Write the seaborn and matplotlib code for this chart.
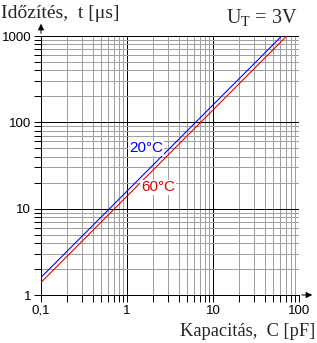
import numpy as np
import pandas as pd
import matplotlib
matplotlib.use("Agg")
import matplotlib.pyplot as plt
import seaborn as sns
from matplotlib.ticker import LogLocator, FixedLocator, FixedFormatter, NullFormatter

# data
cap_20 = [0.1, 63.0]
time_20 = [1.6, 1000.0]
cap_60 = [0.1, 72.0]
time_60 = [1.4, 1000.0]
x_ticks = [0.1, 1, 10, 100]
x_labels = ["0,1", "1", "10", "100"]
y_ticks = [1, 10, 100, 1000]
y_labels = ["1", "10", "100", "1000"]

sns.set_style("white")
plt.rcParams["font.family"] = ["Liberation Sans", "DejaVu Sans"]
plt.rcParams["mathtext.fontset"] = "custom"
plt.rcParams["mathtext.rm"] = "Liberation Serif"
plt.rcParams["mathtext.it"] = "Liberation Serif:italic"

PX = 0.72  # one pixel in points at 100 dpi

fig = plt.figure(figsize=(3.17, 3.43), dpi=100)
ax = fig.add_axes([41/317, 1-295/343, (299-41)/317, (295-36)/343])

df = pd.concat([
    pd.DataFrame({"C": cap_20, "t": time_20, "T": "20"}),
    pd.DataFrame({"C": cap_60, "t": time_60, "T": "60"}),
])
sns.lineplot(data=df, x="C", y="t", hue="T", palette={"20": "#0000ff", "60": "#e00000"},
             ax=ax, legend=False, linewidth=PX * 1.1, zorder=5)

ax.set_xscale("log")
ax.set_yscale("log")
ax.set_xlim(0.1, 100)
ax.set_ylim(1, 1000)

ax.xaxis.set_major_locator(FixedLocator(x_ticks))
ax.xaxis.set_major_formatter(FixedFormatter(x_labels))
ax.yaxis.set_major_locator(FixedLocator(y_ticks))
ax.yaxis.set_major_formatter(FixedFormatter(y_labels))
ax.xaxis.set_minor_locator(LogLocator(base=10, subs=np.arange(2, 10), numticks=20))
ax.yaxis.set_minor_locator(LogLocator(base=10, subs=np.arange(2, 10), numticks=20))
ax.xaxis.set_minor_formatter(NullFormatter())
ax.yaxis.set_minor_formatter(NullFormatter())

ax.grid(which="minor", color="#a0a0a0", linewidth=PX, antialiased=False)
ax.grid(which="major", color="black", linewidth=PX, antialiased=False)
ax.set_axisbelow(True)

for s in ["top", "right"]:
    ax.spines[s].set_visible(False)
for s in ["left", "bottom"]:
    ax.spines[s].set_color("black")
    ax.spines[s].set_linewidth(PX)
    ax.spines[s].set_antialiased(False)

ax.tick_params(which="both", direction="out", length=5, width=PX, color="black",
               left=True, bottom=True, labelsize=9.5, pad=2, labelcolor="black")
ax.set_xlabel("")
ax.set_ylabel("")

# axis arrows
ax.annotate("", xy=(41/317, 1-21/343), xytext=(41/317, 1-36/343), xycoords="figure fraction",
            arrowprops=dict(arrowstyle="-|>", color="black", lw=PX, mutation_scale=9))
ax.annotate("", xy=(315/317, 1-295/343), xytext=(299/317, 1-295/343), xycoords="figure fraction",
            arrowprops=dict(arrowstyle="-|>", color="black", lw=PX, mutation_scale=9))

ax.text(1.66, 50, "20°C", color="#0000ff", fontsize=11, ha="center", va="center", zorder=6,
        bbox=dict(facecolor="white", edgecolor="none", pad=0.5))
ax.text(2.29, 17.6, "60°C", color="#e00000", fontsize=11, ha="center", va="center", zorder=6,
        bbox=dict(facecolor="white", edgecolor="none", pad=0.5))

fig.text(1/317, 1-18/343, "Időzítés,  t [μs]", fontsize=14, family="Liberation Serif",
         ha="left", va="baseline")
fig.text(298/317, 1-23/343, r"U$_\mathrm{T}$ = 3V", fontsize=14.5, family="Liberation Serif",
         ha="right", va="baseline")
fig.text(315/317, 1-336/343, "Kapacitás,  C [pF]", fontsize=13.2, family="Liberation Serif",
         ha="right", va="baseline")

fig.savefig("out.png", dpi=100, facecolor="white")
